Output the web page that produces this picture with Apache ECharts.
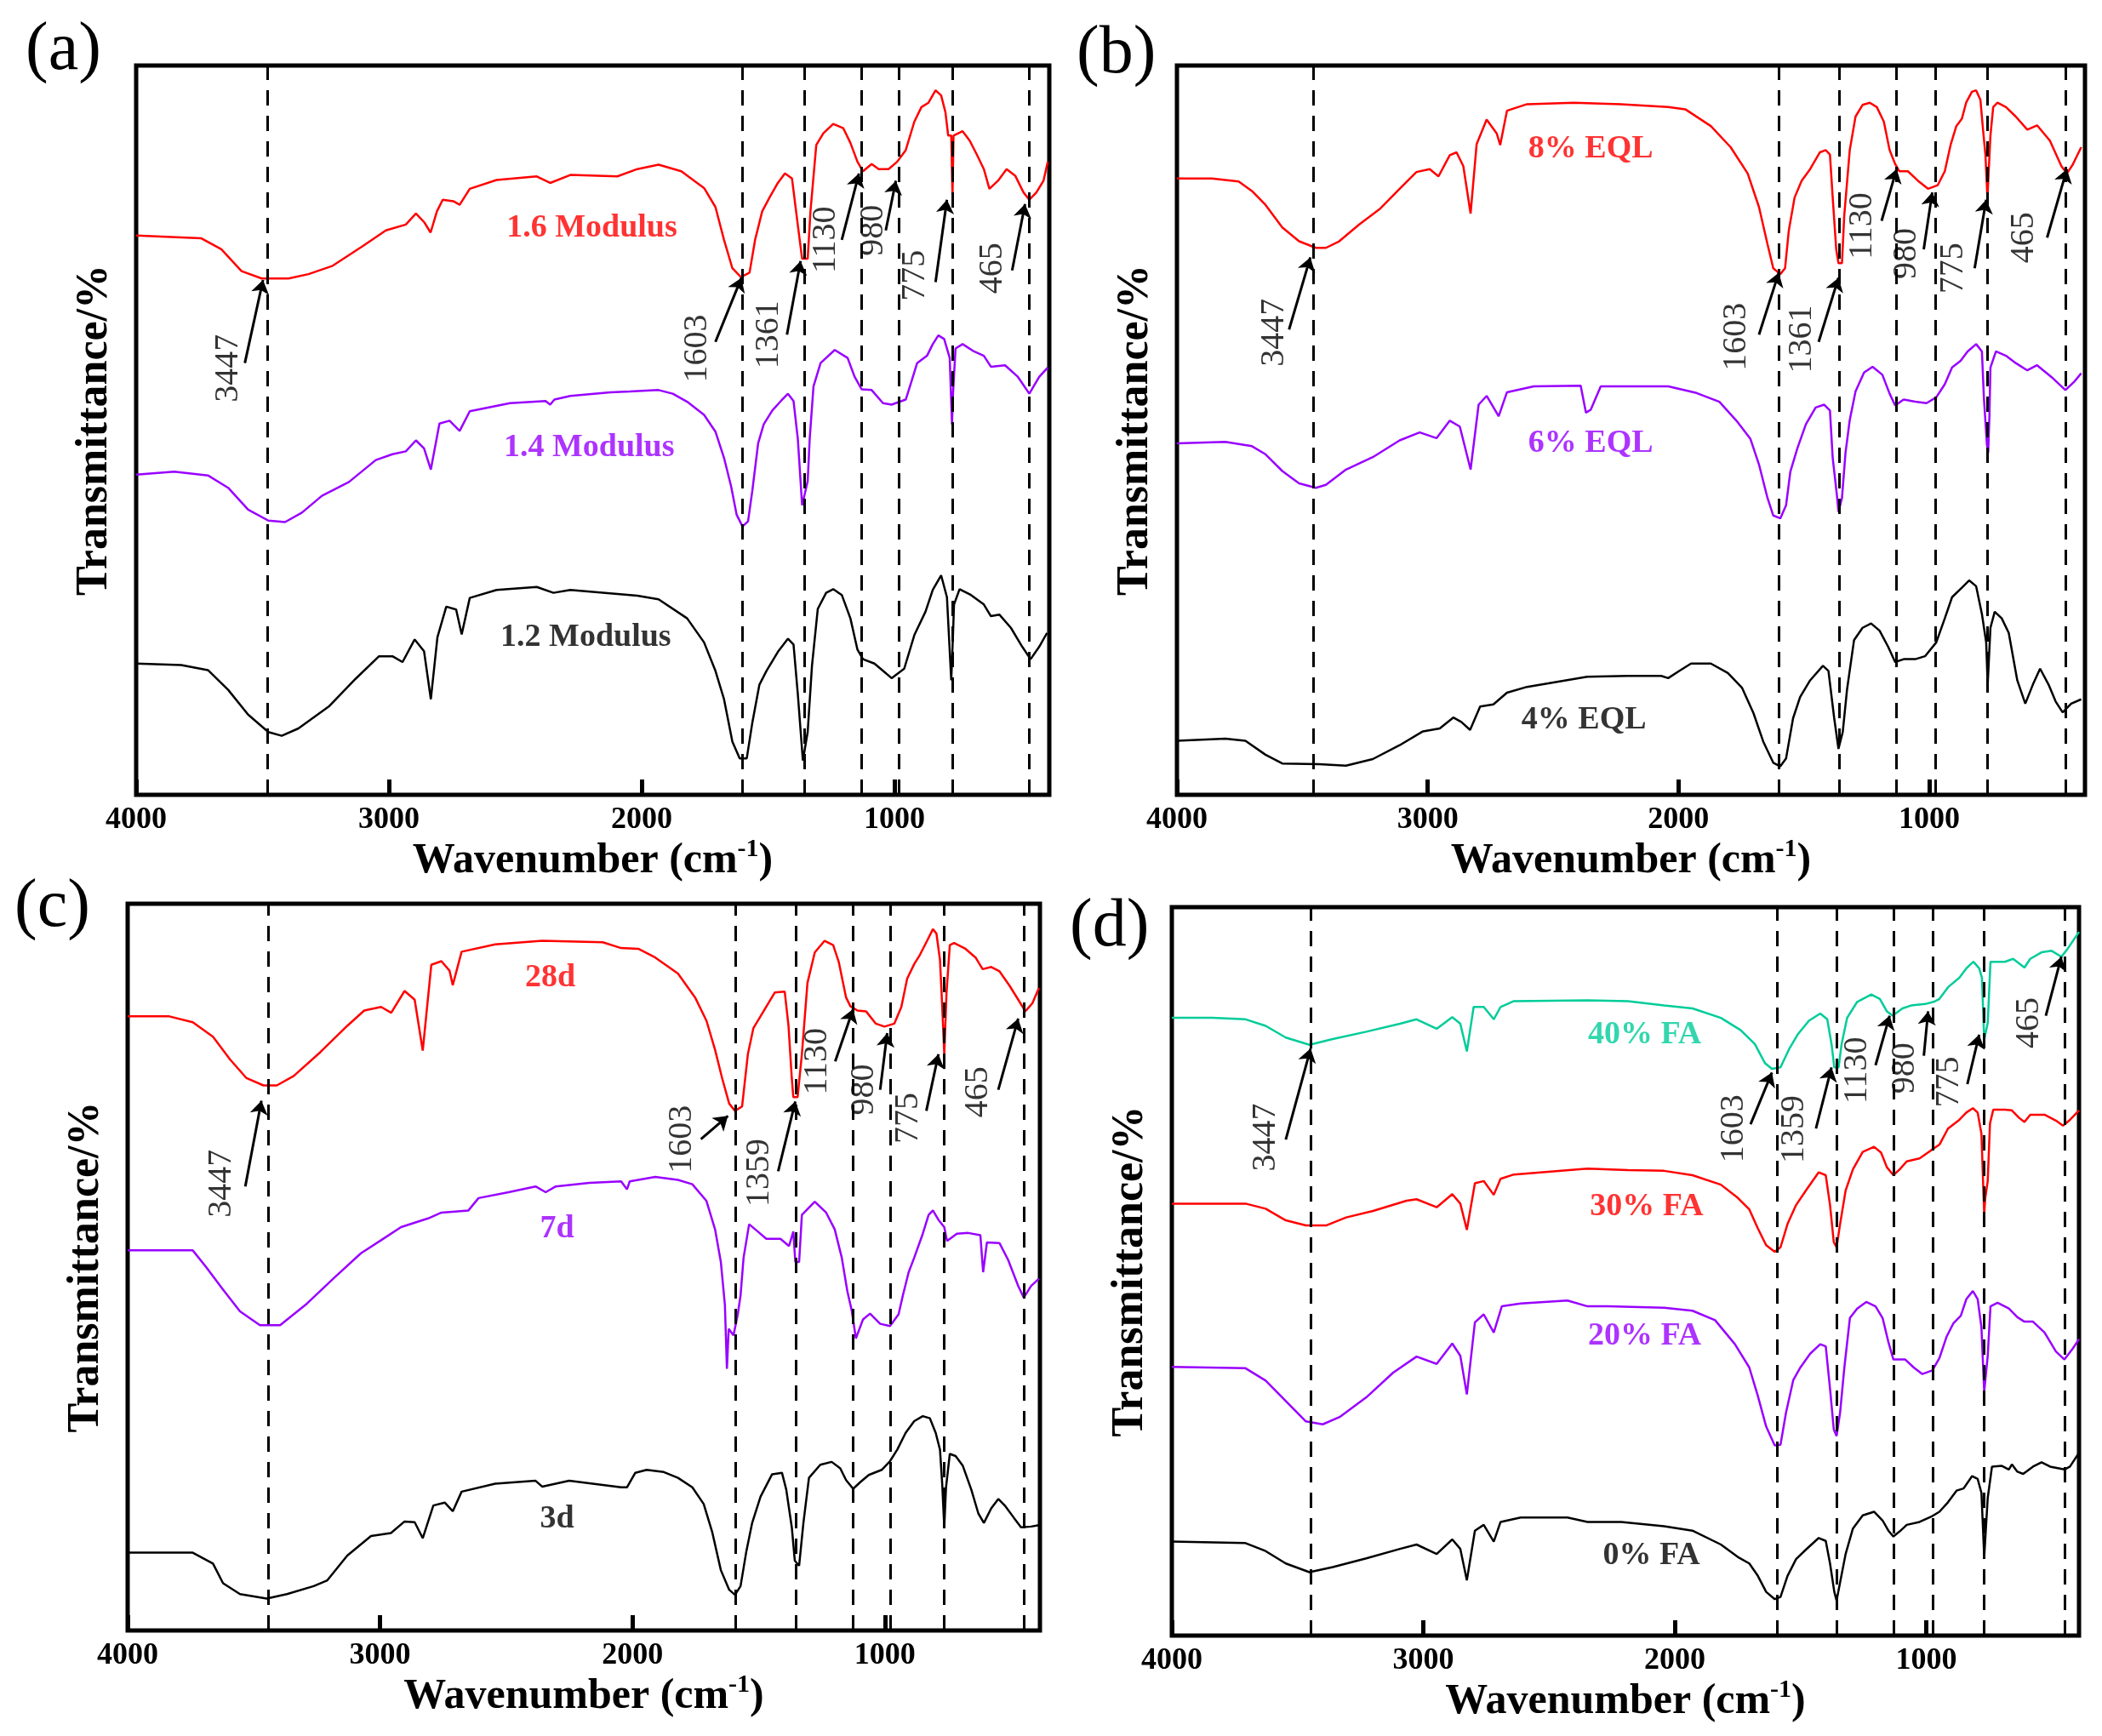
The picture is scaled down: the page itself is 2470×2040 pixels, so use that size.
<!DOCTYPE html>
<html>
<head>
<meta charset="utf-8">
<script src="https://cdn.jsdelivr.net/npm/echarts@6/dist/echarts.min.js"></script>
<style>
    html, body { margin: 0; padding: 0; background: #fff; }
    #ftir { width: 2470px; height: 2040px; }
</style>
</head>
<body>
<div id="ftir"></div>
<script>
// spectra: [wavenumber, relative transmittance 0-100 inside each box]
var a16 = [[4000,76.7],[3742,76.3],[3663,74.8],[3583,71.8],[3503,70.8],[3397,70.8],[3318,71.4],[3225,72.5],[3105,75.2],[3012,77.4],[2933,78.2],[2893,79.7],[2860,78.5],[2835,77.1],[2810,80],[2787,81.6],[2745,81.4],[2720,80.9],[2680,83.1],[2574,84.3],[2415,84.8],[2362,83.9],[2282,85],[2096,84.8],[2017,85.8],[1933,86.4],[1843,85.5],[1753,83.2],[1708,80.6],[1674,76.1],[1641,72.2],[1607,71],[1573,71.6],[1551,76.1],[1523,80],[1494,81.9],[1461,83.9],[1433,85.2],[1405,84.5],[1382,78.1],[1365,73.5],[1343,73.5],[1332,80],[1309,89.1],[1281,90.7],[1242,92],[1202,91.4],[1174,89.4],[1146,86.8],[1124,85.5],[1090,86.5],[1062,85.8],[1023,85.8],[989,86.8],[955,88.4],[921,92.3],[893,94.3],[865,94.9],[837,96.6],[815,95.9],[798,93.6],[787,90.4],[775,90.4],[770,82],[766,90.4],[764,90.4],[730,91],[702,89.7],[674,87.8],[646,85.8],[624,83.1],[590,84.2],[556,85.8],[522,84.9],[489,82.6],[466,81.6],[438,82.6],[410,84.2],[393,86.8]];
var a14 = [[4000,43.9],[3849,44.3],[3716,43.8],[3636,42.1],[3557,39.1],[3477,37.6],[3411,37.4],[3344,38.7],[3265,41],[3158,42.9],[3052,45.9],[2986,46.7],[2933,47.1],[2893,48.6],[2861,47.5],[2834,44.6],[2800,50.9],[2760,51.3],[2720,49.9],[2680,52.6],[2521,53.7],[2380,54],[2362,53.5],[2345,54.2],[2282,54.7],[2123,55.2],[2045,55.3],[1933,55.5],[1877,55],[1820,53.9],[1753,52.1],[1708,49.8],[1674,46.2],[1646,42.3],[1624,38.4],[1601,36.8],[1579,37.5],[1562,41.7],[1539,48.2],[1517,50.8],[1483,52.7],[1449,54],[1421,55],[1399,54],[1382,48.8],[1365,39.7],[1343,43],[1335,48.8],[1320,56],[1292,59.2],[1236,61],[1185,59.9],[1157,57.3],[1129,55.6],[1090,55.5],[1045,53.7],[1011,53.5],[955,54.2],[933,56.6],[910,59.2],[871,60.2],[848,61.8],[826,63],[803,62.5],[781,59.9],[772,50.8],[768,55],[758,61.2],[730,61.8],[685,60.8],[646,60.2],[618,58.7],[562,58.9],[511,57.3],[466,55],[427,57.3],[393,58.6]];
var a12 = [[4000,18],[3822,17.8],[3716,17.1],[3636,14.4],[3557,11],[3477,8.6],[3424,8.1],[3358,9.1],[3238,12.1],[3132,15.9],[3039,19],[2986,19],[2946,18.2],[2898,21.3],[2861,19.7],[2834,13.1],[2808,21.6],[2773,25.8],[2734,25.4],[2712,22],[2680,27],[2574,28.1],[2415,28.5],[2349,27.7],[2282,28.1],[2017,27.3],[1933,26.8],[1820,24.2],[1753,20.9],[1708,17],[1674,13.1],[1641,7.3],[1612,5],[1584,5],[1562,9.9],[1534,15.1],[1506,17],[1461,19.6],[1421,21.4],[1399,20.6],[1382,13.8],[1362,4.7],[1343,8.6],[1326,17.7],[1303,25.5],[1270,27.7],[1242,28.2],[1208,27.4],[1174,24.2],[1146,19.9],[1124,18.6],[1079,18],[1045,17],[1011,16],[961,17.3],[921,21.9],[877,25.1],[848,28.1],[815,30.1],[792,27.1],[775,15.7],[768,22],[764,26.1],[742,28.2],[697,27.4],[646,26.1],[618,24.5],[584,24.7],[539,22.9],[494,20.3],[461,18.6],[427,20.3],[396,22.2]];

var b8 = [[4000,84.5],[3861,84.5],[3754,84.1],[3701,82.8],[3647,80.9],[3580,77.8],[3513,75.9],[3446,75],[3406,75],[3353,75.9],[3273,78.2],[3192,80.3],[3112,83.1],[3045,85.4],[2992,85.8],[2957,84.8],[2912,87.7],[2885,88.1],[2858,86.2],[2829,79.7],[2805,89.2],[2765,92.6],[2725,90.7],[2711,89.1],[2684,93.8],[2604,94.7],[2417,94.9],[2230,94.7],[2041,94.3],[1973,94],[1871,91.7],[1792,88.8],[1724,85.2],[1679,80.6],[1645,75.5],[1622,72.2],[1594,71.4],[1575,72.2],[1560,77.4],[1537,81.9],[1509,84.2],[1475,85.8],[1436,88.1],[1413,88.4],[1396,87.8],[1385,81.9],[1371,74.8],[1362,72.9],[1348,72.9],[1339,79.4],[1328,83.9],[1317,88.4],[1294,93],[1266,94.6],[1237,94.9],[1209,94.3],[1181,92.3],[1158,88.4],[1136,86.5],[1119,85.5],[1085,85.5],[1045,84.2],[1005,83.1],[966,83.6],[938,85.5],[915,89.1],[892,91.7],[870,92.7],[853,94.9],[830,96.4],[813,96.6],[796,95.3],[785,91],[776,87.8],[768,81.9],[756,90.4],[745,94.3],[728,94.9],[694,94.3],[655,93],[609,91.2],[570,91.8],[519,89.7],[473,86.2],[451,85.2],[428,86.4],[394,88.8]];
var b6 = [[4000,48.2],[3807,48.4],[3701,47.8],[3647,46.7],[3580,44.4],[3513,42.7],[3446,42.1],[3406,42.5],[3326,44.6],[3219,46.3],[3112,48.6],[3032,49.7],[2965,48.9],[2912,51.3],[2872,50.5],[2829,44.6],[2797,53.5],[2765,54.7],[2717,51.9],[2684,55.2],[2577,56],[2390,56.1],[2369,52.4],[2350,52.8],[2310,56],[2041,56],[1928,55.1],[1837,53.9],[1769,51.3],[1713,48.8],[1679,45.3],[1645,40.7],[1622,38.3],[1594,37.9],[1571,39.7],[1554,44.3],[1526,47.5],[1492,50.8],[1453,53.1],[1419,53.5],[1396,52.7],[1385,46.2],[1368,41],[1362,38.8],[1348,40.7],[1334,46.9],[1317,51.4],[1294,55.3],[1260,57.9],[1226,58.7],[1187,57.6],[1158,55],[1136,53.4],[1102,54.2],[1056,53.9],[1011,53.7],[972,54.5],[938,56.3],[909,58.6],[875,59.5],[847,60.8],[813,61.8],[790,60.8],[782,54.4],[770,48],[765,46.9],[760,52],[756,58.6],[734,60.8],[694,60.2],[655,59.2],[609,58.2],[570,58.9],[513,57.3],[457,55.5],[423,56.6],[394,57.8]];
var b4 = [[4000,7.4],[3807,7.7],[3727,7.4],[3647,5.5],[3580,4.3],[3433,4.2],[3326,4],[3219,4.9],[3112,6.8],[3019,8.7],[2952,9.1],[2898,10.6],[2866,10],[2831,8.9],[2791,12.1],[2738,12.4],[2684,14],[2604,14.8],[2364,16.2],[2203,16.3],[2069,16.3],[2041,16],[1996,17],[1950,18],[1871,18],[1803,16.7],[1747,14.7],[1701,11.2],[1662,7.3],[1622,4.4],[1594,3.9],[1571,5],[1543,10.5],[1515,13.4],[1475,15.7],[1424,17.7],[1402,17],[1379,10.5],[1362,6.3],[1345,8.6],[1328,14.4],[1300,21.2],[1266,22.9],[1232,23.5],[1198,22.5],[1164,20.3],[1136,18.2],[1102,18.6],[1056,18.6],[1017,19],[972,20.9],[938,24.2],[909,27.1],[870,28.4],[841,29.4],[813,28.6],[790,24.8],[773,20.9],[767,15.1],[756,22.9],[739,25.1],[711,24.2],[683,22.2],[649,15.7],[617,12.5],[587,15.1],[558,17.3],[524,15.1],[496,12.8],[468,11.3],[434,12.5],[394,13.1]];

var c28 = [[4000,84.5],[3835,84.5],[3742,83.7],[3662,81.7],[3595,78.6],[3529,76],[3462,75],[3409,75],[3342,76.3],[3236,79.6],[3130,83.2],[3063,85.3],[2996,85.8],[2956,85],[2903,88],[2863,86.8],[2831,79.8],[2797,91.6],[2757,92.1],[2725,90.8],[2712,88.8],[2677,93.4],[2544,94.4],[2358,94.9],[2118,94.7],[2045,93.9],[1977,93.8],[1910,92.6],[1820,90.4],[1752,87.1],[1707,83.9],[1673,79.9],[1645,76],[1617,72.5],[1594,71.5],[1566,72.1],[1543,79.3],[1521,82.9],[1481,85.2],[1436,87.8],[1397,87.9],[1382,83.2],[1369,76],[1363,73.4],[1346,73.4],[1329,79.3],[1307,89.1],[1278,93.3],[1239,94.9],[1205,94.3],[1183,92],[1154,87.1],[1137,85.9],[1109,85.3],[1075,85.2],[1036,83.5],[1002,83.1],[963,83.5],[935,85.8],[912,89.7],[884,91.7],[861,93],[833,94.9],[810,96.5],[796,95.9],[782,92.3],[773,85.8],[765,79.3],[756,87.8],[743,94.3],[726,94.6],[681,93.8],[641,92.6],[613,91],[579,91.3],[546,90.7],[506,88.7],[472,86.8],[444,85.2],[416,86.3],[390,88.4]];
var c7 = [[4000,52.3],[3742,52.3],[3689,50],[3622,46.9],[3555,43.9],[3476,42],[3396,42],[3289,45],[3183,48.5],[3076,51.9],[2996,53.7],[2917,55.5],[2810,56.7],[2757,57.5],[2650,57.8],[2610,59.5],[2491,60.3],[2384,61.1],[2344,60.3],[2304,61.1],[2171,61.6],[2045,61.8],[2022,60.7],[2011,61.8],[1910,62.4],[1820,62],[1763,61.4],[1707,59.1],[1673,55.2],[1650,50.7],[1634,44.8],[1626,36],[1619,41.5],[1600,40.6],[1583,43.5],[1572,46.1],[1560,51.3],[1538,55.9],[1504,54.9],[1470,53.9],[1414,53.9],[1380,52.9],[1363,54.9],[1355,50.7],[1340,50.7],[1329,57.2],[1278,59],[1233,57.5],[1199,55.2],[1171,51.3],[1149,46.7],[1132,44.1],[1115,40.2],[1087,42.8],[1059,43.6],[1019,42.2],[980,41.9],[946,43.5],[929,46.1],[906,49.3],[884,51.3],[850,54.6],[827,57.2],[810,57.8],[788,56.5],[765,55.5],[754,53.6],[715,54.6],[670,54.7],[622,54.4],[611,49.3],[596,53.4],[546,53.3],[512,51],[472,47.4],[450,45.8],[421,47.4],[390,48.4]];
var c3 = [[4000,10.7],[3742,10.7],[3662,9.2],[3622,6.5],[3555,5],[3449,4.4],[3369,5],[3263,6.1],[3209,6.9],[3130,10.3],[3036,13],[2957,13.4],[2903,15],[2863,14.9],[2831,12.7],[2789,17.2],[2744,17.6],[2712,16.4],[2677,19.1],[2544,20.2],[2384,20.6],[2358,19.8],[2251,20.6],[2045,19.7],[2022,19.7],[1989,21.7],[1944,22.1],[1876,21.8],[1820,21],[1763,19.7],[1718,17.4],[1684,13.5],[1650,8.3],[1617,5.6],[1594,4.9],[1572,6.1],[1549,10.9],[1526,14.8],[1493,18.4],[1447,21.5],[1408,21.7],[1391,19.4],[1369,14.2],[1357,9.6],[1340,8.9],[1323,14.8],[1301,21],[1256,22.8],[1211,23.2],[1177,22.3],[1154,20.7],[1126,19.5],[1098,20.4],[1064,21.4],[1013,22.1],[980,23.3],[951,24.9],[918,27.2],[884,28.8],[850,29.5],[822,29.2],[799,27.2],[782,24.9],[773,20.1],[765,14.2],[758,19.7],[743,24.3],[720,24],[692,22.7],[658,19.4],[630,16.1],[608,14.8],[579,16.8],[551,18.1],[523,17.1],[489,15.5],[461,14.2],[421,14.3],[390,14.5]];

var d40 = [[4000,84.8],[3840,84.8],[3707,84.6],[3627,83.7],[3547,82.1],[3453,81.1],[3360,81.9],[3227,82.9],[3093,84],[3027,84.6],[2947,83.3],[2885,84.9],[2853,84],[2827,80.2],[2800,86.3],[2760,86.3],[2720,84.6],[2693,86.3],[2640,87.1],[2347,87.2],[2187,87.1],[2043,86.5],[1930,86.1],[1817,84.8],[1738,83.1],[1682,81.2],[1642,78.6],[1614,77.8],[1580,78],[1546,80.5],[1512,82.5],[1467,84.4],[1422,85.4],[1394,84.6],[1377,81.2],[1366,78],[1349,78],[1337,81.2],[1315,84.8],[1275,87],[1219,88],[1185,87.4],[1157,85.7],[1134,85.1],[1095,86.1],[1061,86.5],[1005,86.7],[971,87],[948,87.4],[914,89],[869,90.3],[841,91.6],[813,92.5],[790,91.6],[779,90.3],[770,81.8],[756,84.1],[745,92.5],[688,92.5],[655,92.9],[610,91.7],[587,92.9],[542,93.8],[502,94],[463,93.2],[440,94.2],[393,96.6]];
var d30 = [[4000,59.3],[3707,59.3],[3627,58.6],[3547,57],[3467,56.3],[3387,56.3],[3307,57.4],[3200,58.3],[3067,59.7],[3027,59.9],[2947,58.8],[2885,60.6],[2853,59.3],[2827,55.7],[2795,62.1],[2760,62.4],[2720,60.5],[2693,62.7],[2640,63.3],[2347,64.1],[2187,63.9],[2043,63.8],[1930,63.2],[1817,61.9],[1750,60.1],[1704,58.5],[1670,55.9],[1637,53.6],[1603,52.7],[1580,53.3],[1552,56.5],[1518,59.1],[1479,61.1],[1428,63.6],[1400,63.2],[1383,59.1],[1368,54],[1357,53.3],[1343,56.5],[1321,61.1],[1292,64],[1253,66.4],[1208,67.1],[1180,66.3],[1157,64.3],[1131,63.2],[1106,64],[1078,65.1],[1027,65.5],[982,66.6],[948,67.4],[914,69.6],[869,70.8],[841,71.8],[815,72.4],[796,71.8],[781,68.9],[770,57.8],[766,60],[756,62.4],[747,70.3],[734,72.2],[688,72.2],[660,72.1],[632,71.1],[610,70.5],[587,71.5],[530,71.5],[485,70.7],[457,70],[429,70.8],[393,72.1]];
var d20 = [[4000,36.9],[3707,36.7],[3627,35],[3547,32.2],[3467,29.4],[3400,29],[3333,30],[3227,32.7],[3120,36.1],[3027,38.3],[2947,37.3],[2885,40.1],[2853,38.4],[2827,33.1],[2795,43],[2760,44.1],[2720,41.6],[2688,45.2],[2613,45.6],[2427,46],[2347,45.2],[2267,45.2],[2043,45],[1930,44.6],[1840,43.3],[1761,40],[1704,36.8],[1670,32.9],[1637,28.7],[1603,26.1],[1580,26.2],[1558,30.6],[1529,35.1],[1501,36.8],[1462,38.7],[1422,40],[1400,39.7],[1383,33.9],[1368,28.3],[1357,27.4],[1343,30.6],[1326,36.8],[1304,43.6],[1275,44.9],[1239,45.8],[1202,45.2],[1174,43.6],[1151,40.3],[1131,37.9],[1084,37.9],[1050,36.8],[1016,35.9],[976,36.4],[948,38.1],[920,41],[892,42.9],[863,43.9],[841,46.2],[815,47.3],[796,46.2],[781,42.3],[770,33.5],[756,38.4],[745,45.2],[717,45.7],[672,44.9],[638,43.7],[610,43.1],[576,43.1],[530,41.6],[485,39],[451,37.9],[418,39.4],[393,40.7]];
var d0 = [[4000,12.9],[3707,12.7],[3627,11.6],[3547,9.9],[3453,8.7],[3360,9.4],[3227,10.6],[3093,11.9],[3027,12.5],[2947,11.2],[2885,13.2],[2853,11.9],[2827,7.6],[2795,14.4],[2760,15.2],[2720,12.9],[2693,15.6],[2613,16.2],[2427,16.2],[2347,15.6],[2213,15.6],[2043,15],[1930,14.4],[1817,12.5],[1750,10.8],[1704,9.9],[1670,8.2],[1637,6],[1603,5],[1580,5.3],[1552,8.2],[1518,10.5],[1479,11.8],[1428,13.4],[1400,13],[1383,9.9],[1366,6],[1357,4.8],[1343,7.3],[1321,11.2],[1292,14.7],[1253,16.5],[1208,17],[1174,15.8],[1151,14.4],[1131,13.6],[1106,14.3],[1078,15.2],[1027,15.6],[982,16.3],[948,17],[914,18.3],[880,19.9],[852,20.2],[818,21.9],[796,21.5],[781,19.6],[770,10.8],[756,18.9],[739,23.2],[700,23.3],[672,22.8],[660,23.5],[638,22.5],[615,22.2],[576,23.2],[542,23.8],[508,23.2],[451,22.8],[429,23.2],[393,25.1]];

// curve names: [text, wavenumber, value]
var tagsA = [['1.6 Modulus', 2197, 77.7], ['1.4 Modulus', 2208, 47.6], ['1.2 Modulus', 2221, 21.6]];
var tagsB = [['8% EQL', 2350, 88.6], ['6% EQL', 2350, 48.2], ['4% EQL', 2377, 10.3]];
var tagsC = [['28d', 2326, 89.8], ['7d', 2299, 55.3], ['3d', 2299, 15.3]];
var tagsD = [['40% FA', 2120, 82.5], ['30% FA', 2112, 58.8], ['20% FA', 2120, 41.1], ['0% FA', 2093, 11]];

// band labels: [text, text w, text v, arrow from w, v, arrow to w, v]
var peaksA = [['3447', 3636, 58.5, 3570, 59.2, 3498, 70.6], ['1603', 1781, 61.2, 1708, 62.1, 1605, 70.9], ['1361', 1497, 63.1, 1425, 63.1, 1371, 73.2], ['1130', 1270, 76.1, 1208, 76.1, 1140, 85.2], ['980', 1084, 77.4, 1034, 77.4, 994, 84.2], ['775', 916, 71.2, 837, 70.3, 792, 81.6], ['465', 612, 72.2, 534, 71.9, 483, 81]];
var peaksB = [['3447', 3612, 63.4, 3553, 63.8, 3468, 73.7], ['1603', 1769, 62.8, 1679, 63.1, 1600, 71.6], ['1361', 1509, 62.5, 1441, 62.1, 1362, 70.9], ['1130', 1266, 78, 1190, 78.7, 1130, 85.8], ['980', 1090, 74.2, 1022, 74.8, 988, 82.6], ['775', 904, 72.2, 819, 72.2, 773, 81.6], ['465', 621, 76.4, 530, 76.4, 451, 85.8]];
var peaksC = [['3447', 3627, 61.5, 3534, 61.1, 3470, 72.9], ['1603', 1803, 67.6, 1729, 67.6, 1622, 70.8], ['1359', 1498, 63, 1423, 63.2, 1355, 72.8], ['1130', 1269, 78.3, 1197, 78.3, 1126, 85.5], ['980', 1081, 74.4, 1019, 74.4, 991, 82.2], ['775', 906, 70.5, 836, 71.5, 788, 79.3], ['465', 630, 74.1, 551, 74.4, 472, 84.2]];
var peaksD = [['3447', 3627, 68.4, 3547, 68.1, 3448, 80.6], ['1603', 1766, 69.6, 1699, 70.2, 1614, 77.3], ['1359', 1526, 69.5, 1439, 69.6, 1377, 78], ['1130', 1275, 77.6, 1202, 78.3, 1146, 85.1], ['980', 1084, 77.9, 1010, 79.6, 993, 85.7], ['775', 909, 76, 837, 75.7, 790, 82.5], ['465', 592, 84.1, 525, 85.1, 463, 93.2]];

// dashed guide lines (wavenumber)
var guidesA = [3482, 1603, 1356, 1129, 983, 770, 466];
var guidesB = [3457, 1600, 1360, 1132, 974, 770, 455];
var guidesC = [3444, 1591, 1354, 1126, 980, 765, 450];
var guidesD = [3448, 1595, 1358, 1131, 973, 770, 451];

var xTicks = [4000, 3000, 2000, 1000];

var FONT = 'Liberation Serif, Times New Roman, serif';
var RED = '#ff0000', PURPLE = '#9900ff', GREEN = '#00cc99', BLACK = '#000000';

var panels = [
    {letter: '(a)', at: [30, 20], box: [160, 77, 1073, 857], min: 387, curves: [a16, a14, a12], colors: [RED, PURPLE, BLACK], tags: tagsA, peaks: peaksA, guides: guidesA},
    {letter: '(b)', at: [1265, 24], box: [1383, 77, 1067, 857], min: 379, curves: [b8, b6, b4], colors: [RED, PURPLE, BLACK], tags: tagsB, peaks: peaksB, guides: guidesB},
    {letter: '(c)', at: [17, 1027], box: [150, 1062, 1072, 854], min: 386, curves: [c28, c7, c3], colors: [RED, PURPLE, BLACK], tags: tagsC, peaks: peaksC, guides: guidesC},
    {letter: '(d)', at: [1257, 1050], box: [1377, 1066, 1066, 856], min: 393, curves: [d40, d30, d20, d0], colors: [GREEN, RED, PURPLE, BLACK], tags: tagsD, peaks: peaksD, guides: guidesD}
];

var chart = echarts.init(document.getElementById('ftir'));

var grid = [], xAxis = [], yAxis = [], series = [], graphic = [];

panels.forEach(function (p, i) {
    grid.push({
        left: p.box[0], top: p.box[1], width: p.box[2], height: p.box[3],
        show: true, borderColor: '#000', borderWidth: 5, backgroundColor: 'transparent'
    });
    xAxis.push({
        gridIndex: i,
        type: 'value',
        inverse: true,
        min: p.min,
        max: 4000,
        name: 'Wavenumber (cm{sup|-1})',
        nameLocation: 'middle',
        nameGap: 44,
        nameTextStyle: {
            fontFamily: FONT, fontSize: 50, fontWeight: 'bold', color: '#000', lineHeight: 58,
            rich: {
                sup: {fontFamily: FONT, fontSize: 30, fontWeight: 'bold', color: '#000', verticalAlign: 'top', lineHeight: 30}
            }
        },
        axisLine: {show: false},
        axisTick: {show: true, inside: true, length: 18, lineStyle: {color: '#000', width: 5}, customValues: xTicks},
        axisLabel: {
            show: true, customValues: xTicks, margin: 12,
            fontFamily: FONT, fontSize: 36, fontWeight: 'bold', color: '#000',
            formatter: function (v) { return String(v); }
        },
        splitLine: {show: false}
    });
    yAxis.push({
        gridIndex: i,
        type: 'value',
        min: 0,
        max: 100,
        name: 'Transmittance/%',
        nameLocation: 'middle',
        nameRotate: 90,
        nameGap: 22,
        nameTextStyle: {fontFamily: FONT, fontSize: 52, fontWeight: 'bold', color: '#000'},
        axisLine: {show: false},
        axisTick: {show: false},
        axisLabel: {show: false},
        splitLine: {show: false}
    });

    p.curves.forEach(function (d, k) {
        var s = {
            type: 'line',
            xAxisIndex: i,
            yAxisIndex: i,
            data: d,
            symbol: 'none',
            lineStyle: {color: p.colors[k], width: 2.5},
            z: 3
        };
        if (k === 0) {
            s.markLine = {
                silent: true,
                symbol: ['none', 'none'],
                label: {show: false},
                lineStyle: {color: '#000', width: 3, type: [18, 12]},
                data: p.guides.map(function (g) { return {xAxis: g}; })
            };
        }
        series.push(s);
    });

    // curve names
    series.push({
        type: 'scatter',
        xAxisIndex: i,
        yAxisIndex: i,
        symbol: 'rect',
        symbolSize: 1,
        itemStyle: {color: 'rgba(0,0,0,0)'},
        silent: true,
        z: 5,
        label: {show: true, position: 'inside', formatter: '{b}', fontFamily: FONT, fontSize: 38, fontWeight: 'bold'},
        data: p.tags.map(function (t, k) {
            return {name: t[0], value: [t[1], t[2]], label: {color: p.colors[k]}};
        })
    });

    // band numbers
    series.push({
        type: 'scatter',
        xAxisIndex: i,
        yAxisIndex: i,
        symbol: 'rect',
        symbolSize: 1,
        itemStyle: {color: 'rgba(0,0,0,0)'},
        silent: true,
        z: 5,
        label: {show: true, position: 'inside', rotate: 90, formatter: '{b}', fontFamily: FONT, fontSize: 40, color: '#000'},
        data: p.peaks.map(function (q) { return {name: q[0], value: [q[1], q[2]]}; })
    });

    // arrows
    series.push({
        type: 'lines',
        coordinateSystem: 'cartesian2d',
        xAxisIndex: i,
        yAxisIndex: i,
        symbol: ['none', 'arrow'],
        symbolSize: 16,
        silent: true,
        z: 6,
        lineStyle: {color: '#000', width: 3, opacity: 1, curveness: 0},
        data: p.peaks.map(function (q) { return {coords: [[q[3], q[4]], [q[5], q[6]]]}; })
    });

    graphic.push({
        type: 'text',
        left: p.at[0],
        top: p.at[1],
        style: {text: p.letter, font: 'normal 80px ' + FONT, fill: '#000'}
    });
});

chart.setOption({
    animation: false,
    backgroundColor: '#fff',
    grid: grid,
    xAxis: xAxis,
    yAxis: yAxis,
    series: series,
    graphic: graphic
});
</script>
</body>
</html>
